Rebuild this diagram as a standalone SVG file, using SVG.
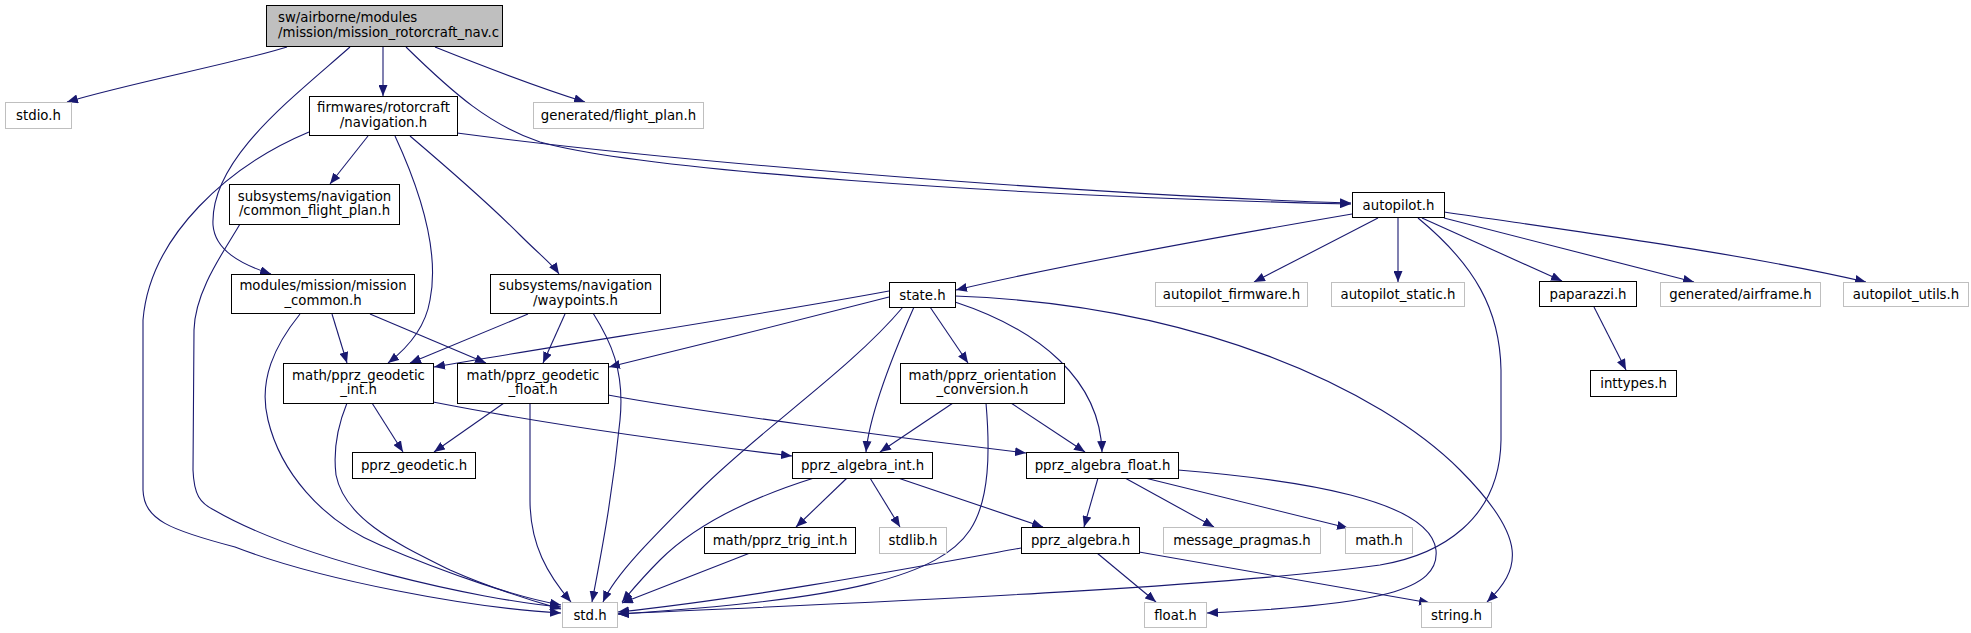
<svg xmlns="http://www.w3.org/2000/svg" width="1971" height="633" viewBox="0 0 1971 633">
<defs>
<marker id="a" markerUnits="userSpaceOnUse" viewBox="0 0 11 9" refX="11" refY="4.5" markerWidth="11" markerHeight="9" orient="auto"><path d="M0,0 L11,4.5 L0,9 z" fill="#191970"/></marker>
<style>
rect{fill:#fff;stroke:#000;stroke-width:1}
.g rect{stroke:#bfbfbf}
.m rect{fill:#bfbfbf}
text{font-family:"DejaVu Sans",sans-serif;font-size:13.3px;fill:#000;text-anchor:middle}
.m text{text-anchor:start}
#edges path{fill:none;stroke:#191970;stroke-width:1.1;marker-end:url(#a)}
</style>
</defs>
<rect x="0" y="0" width="1971" height="633" style="fill:#fff;stroke:none"/>
<g id="edges">
<path d="M287,47 C240,62 130,83 67,102"/>
<path d="M383,47 L383,96"/>
<path d="M435,47 C480,65 540,88 585,102"/>
<path d="M350,47 C290,100 210,160 213,225 C215,250 240,264 271,274"/>
<path d="M406,47 C455,95 490,125 540,142 C640,170 1000,196 1351,204"/>
<path d="M457,133 C700,165 1100,195 1351,203"/>
<path d="M368,136 L330,184"/>
<path d="M309,132 C230,165 150,235 143,320 L143,490 C144,520 170,530 235,547 C320,580 470,608 561,613"/>
<path d="M240,224 C225,250 195,290 194,330 L193,470 C194,495 200,503 214,510 C300,560 480,600 561,607"/>
<path d="M395,136 C420,190 440,250 430,300 C425,330 405,350 388,363"/>
<path d="M410,136 C450,170 490,205 520,235 C540,255 553,265 559,274"/>
<path d="M332,314 L347,363"/>
<path d="M370,314 L486,363"/>
<path d="M300,314 C275,345 258,380 268,420 C280,470 320,520 380,545 C450,575 520,598 561,605"/>
<path d="M347,403 C338,425 333,450 336,475 C345,520 400,545 450,570 C500,592 540,603 561,609"/>
<path d="M372,403 L403,452"/>
<path d="M504,403 L434,452"/>
<path d="M433,402 C550,425 700,445 792,456"/>
<path d="M608,395 C700,412 900,438 1026,453"/>
<path d="M530,403 L530,500 C530,545 548,575 571,602"/>
<path d="M528,314 L410,363"/>
<path d="M565,314 L543,363"/>
<path d="M593,313 C610,340 625,370 620,420 C612,500 600,560 592,602"/>
<path d="M1352,214 C1200,240 1050,268 956,290"/>
<path d="M1378,218 L1254,282"/>
<path d="M1398,218 L1398,282"/>
<path d="M1422,218 L1562,281"/>
<path d="M1444,218 L1694,282"/>
<path d="M1444,212 C1600,235 1750,255 1866,282"/>
<path d="M1418,218 C1475,265 1500,310 1501,370 L1501,440 C1500,520 1440,555 1380,565 C1200,590 800,605 618,614"/>
<path d="M1594,307 L1626,370"/>
<path d="M889,291 C760,315 560,345 434,367"/>
<path d="M889,297 C800,320 700,345 609,367"/>
<path d="M903,307 C850,370 760,430 700,490 C650,540 615,575 603,602"/>
<path d="M914,307 C895,350 870,410 866,452"/>
<path d="M930,307 L968,363"/>
<path d="M955,302 C1040,330 1100,380 1102,452"/>
<path d="M955,296 C1200,305 1380,390 1460,470 C1530,540 1520,570 1487,602"/>
<path d="M953,403 L880,452"/>
<path d="M1011,403 L1085,452"/>
<path d="M986,403 C990,450 990,500 970,530 C940,575 850,600 618,614"/>
<path d="M814,478 C760,495 700,520 660,560 C640,580 628,595 622,602"/>
<path d="M847,478 L796,527"/>
<path d="M870,478 L900,527"/>
<path d="M898,478 L1043,527"/>
<path d="M1098,478 L1084,527"/>
<path d="M1125,478 L1214,527"/>
<path d="M1145,478 L1348,528"/>
<path d="M1178,470 C1300,480 1430,500 1436,550 C1440,590 1380,605 1207,613"/>
<path d="M1021,548 C900,570 750,598 618,612"/>
<path d="M1097,553 L1156,602"/>
<path d="M1139,552 L1430,603"/>
<path d="M750,553 L622,603"/>
</g>
<g id="main" class="m"><rect x="266.5" y="5.5" width="236" height="41"/><text x="278" y="22">sw/airborne/modules</text><text x="278" y="36.5">/mission/mission_rotorcraft_nav.c</text></g>
<g id="stdio" class="g"><rect x="5.5" y="102.5" width="66" height="26"/><text x="38.5" y="120">stdio.h</text></g>
<g id="navigation"><rect x="309.5" y="96.5" width="148" height="39"/><text x="383.5" y="112">firmwares/rotorcraft</text><text x="383.5" y="126.5">/navigation.h</text></g>
<g id="flight_plan" class="g"><rect x="533.5" y="102.5" width="170" height="26"/><text x="618.5" y="120">generated/flight_plan.h</text></g>
<g id="common_flight_plan"><rect x="229.5" y="184.5" width="170" height="40"/><text x="314.5" y="200.5">subsystems/navigation</text><text x="314.5" y="215">/common_flight_plan.h</text></g>
<g id="autopilot"><rect x="1352.5" y="192.5" width="92" height="25"/><text x="1398.5" y="209.5">autopilot.h</text></g>
<g id="mission_common"><rect x="231.5" y="274.5" width="183" height="39"/><text x="323" y="290">modules/mission/mission</text><text x="323" y="304.5">_common.h</text></g>
<g id="waypoints"><rect x="490.5" y="274.5" width="170" height="39"/><text x="575.5" y="290">subsystems/navigation</text><text x="575.5" y="304.5">/waypoints.h</text></g>
<g id="state"><rect x="889.5" y="282.5" width="66" height="25"/><text x="922.5" y="299.5">state.h</text></g>
<g id="autopilot_firmware" class="g"><rect x="1155.5" y="282.5" width="152" height="24"/><text x="1231.5" y="299">autopilot_firmware.h</text></g>
<g id="autopilot_static" class="g"><rect x="1331.5" y="282.5" width="133" height="24"/><text x="1398" y="299">autopilot_static.h</text></g>
<g id="paparazzi"><rect x="1539.5" y="281.5" width="97" height="25"/><text x="1588" y="298.5">paparazzi.h</text></g>
<g id="airframe" class="g"><rect x="1660.5" y="282.5" width="160" height="24"/><text x="1740.5" y="299">generated/airframe.h</text></g>
<g id="autopilot_utils" class="g"><rect x="1843.5" y="282.5" width="125" height="24"/><text x="1906" y="299">autopilot_utils.h</text></g>
<g id="inttypes"><rect x="1590.5" y="370.5" width="86" height="26"/><text x="1633.5" y="388">inttypes.h</text></g>
<g id="geodetic_int"><rect x="283.5" y="363.5" width="150" height="40"/><text x="358.5" y="379.5">math/pprz_geodetic</text><text x="358.5" y="394">_int.h</text></g>
<g id="geodetic_float"><rect x="457.5" y="363.5" width="151" height="40"/><text x="533" y="379.5">math/pprz_geodetic</text><text x="533" y="394">_float.h</text></g>
<g id="orientation"><rect x="900.5" y="363.5" width="164" height="40"/><text x="982.5" y="379.5">math/pprz_orientation</text><text x="982.5" y="394">_conversion.h</text></g>
<g id="pprz_geodetic"><rect x="352.5" y="452.5" width="123" height="26"/><text x="414" y="470">pprz_geodetic.h</text></g>
<g id="algebra_int"><rect x="792.5" y="452.5" width="140" height="26"/><text x="862.5" y="470">pprz_algebra_int.h</text></g>
<g id="algebra_float"><rect x="1026.5" y="452.5" width="152" height="26"/><text x="1102.5" y="470">pprz_algebra_float.h</text></g>
<g id="trig_int"><rect x="704.5" y="527.5" width="151" height="26"/><text x="780" y="545">math/pprz_trig_int.h</text></g>
<g id="stdlib" class="g"><rect x="879.5" y="527.5" width="67" height="26"/><text x="913" y="545">stdlib.h</text></g>
<g id="pprz_algebra"><rect x="1021.5" y="527.5" width="118" height="26"/><text x="1080.5" y="545">pprz_algebra.h</text></g>
<g id="message_pragmas" class="g"><rect x="1163.5" y="527.5" width="157" height="26"/><text x="1242" y="545">message_pragmas.h</text></g>
<g id="math" class="g"><rect x="1345.5" y="527.5" width="67" height="26"/><text x="1379" y="545">math.h</text></g>
<g id="std" class="g"><rect x="562.5" y="602.5" width="55" height="25"/><text x="590" y="619.5">std.h</text></g>
<g id="float" class="g"><rect x="1144.5" y="602.5" width="62" height="25"/><text x="1175.5" y="619.5">float.h</text></g>
<g id="string" class="g"><rect x="1421.5" y="602.5" width="70" height="25"/><text x="1456.5" y="619.5">string.h</text></g>
</svg>
